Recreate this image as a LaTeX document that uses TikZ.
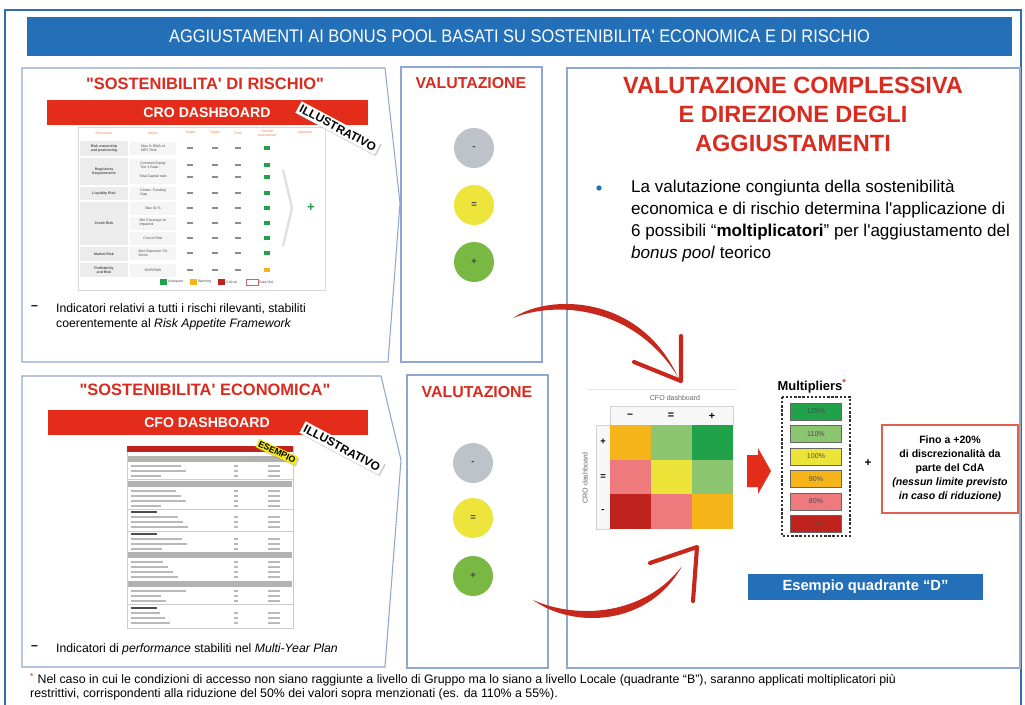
\documentclass[tikz,border=0pt]{standalone}
\usepackage{fontspec}
\setmainfont{Liberation Sans}[Ligatures=TeXOff]
\newfontfamily\narrowfont[FakeStretch=0.9,Ligatures=TeXOff]{Liberation Sans}
\usetikzlibrary{shadows}
\definecolor{frameblue}{HTML}{2E6DB4}
\definecolor{bandblue}{HTML}{2370B8}
\definecolor{panelblue}{HTML}{8EA7D3}
\definecolor{titlered}{HTML}{D92B1F}
\definecolor{dashred}{HTML}{E32C1A}
\definecolor{arrred}{HTML}{C8281C}
\definecolor{finored}{HTML}{E0604F}
\definecolor{hdrorange}{HTML}{E58A4E}
\definecolor{cgray}{HTML}{BEC2C9}
\definecolor{cyellow}{HTML}{EDE53C}
\definecolor{cgreen}{HTML}{78B843}
\definecolor{mgreen}{HTML}{1FA24A}
\definecolor{lgreen}{HTML}{8CC56F}
\definecolor{myellow}{HTML}{EDE43A}
\definecolor{morange}{HTML}{F4B41A}
\definecolor{mpink}{HTML}{EE7A7D}
\definecolor{mred}{HTML}{C0231D}
\definecolor{tagyellow}{HTML}{F2EA1D}

\begin{document}
\begin{tikzpicture}[x=0.85pt,y=-0.85pt,
    panel/.style={draw=panelblue,line width=0.9pt},
    redtitle/.style={text=titlered,font=\bfseries\fontsize{14}{16}\selectfont},
    dashtitle/.style={text=white,font=\bfseries\fontsize{12}{14}\selectfont},
    tagbox/.style={fill=white,rotate=-28,inner sep=2pt,font=\bfseries\fontsize{10}{10}\selectfont,drop shadow={opacity=0.4,shadow xshift=1pt,shadow yshift=-1.2pt}},
    bodytext/.style={anchor=north west,inner sep=0pt,align=left,font=\fontsize{10.4}{12.75}\selectfont},
    tinytext/.style={inner sep=0pt,align=center,font=\fontsize{3}{3.4}\selectfont,text=black!70},
    hdrtext/.style={tinytext,text=hdrorange},
    valdot/.style={circle,minimum size=34pt,inner sep=0pt,font=\bfseries\fontsize{8}{8}\selectfont,text=black!75},
    cell/.style={minimum width=34.85pt,minimum height=29.5pt,inner sep=0pt},
    mbox/.style={draw=black!60,line width=0.8pt,minimum width=44pt,minimum height=14.5pt,inner sep=0pt,font=\fontsize{6}{6}\selectfont,text=black!70},
    brush/.style={arrred,line width=3.5pt,line cap=round,line join=round}]
\useasboundingbox (0,0) rectangle (1025,704);
\fill[white] (0,0) rectangle (1025,704);
\draw[frameblue,line width=1.3pt] (5,712) -- (5,10) -- (1021,10) -- (1021,712);

\fill[bandblue] (27,17) rectangle (1012,56);
\node[text=white,font=\narrowfont\fontsize{15.5}{15.5}\selectfont] (banner) at (519.5,36.5) {AGGIUSTAMENTI AI BONUS POOL BASATI SU SOSTENIBILITA' ECONOMICA E DI RISCHIO};

\draw[panel] (22,68) -- (385,68) -- (400,203) -- (388,362) -- (22,362) -- cycle;
\draw[panel] (22,376) -- (381,376) -- (401,460) -- (385,667) -- (22,667) -- cycle;
\draw[panel] (401,67) rectangle (542,362);
\draw[panel] (407,375) rectangle (548,668);
\draw[panel] (567,68) rectangle (1020,668);

% rischio
\node[redtitle] (riskt) at (205,84) {"SOSTENIBILITA' DI RISCHIO"};
\fill[dashred] (47,100) rectangle (368,125);
\node[dashtitle] (crodash) at (207,112.5) {CRO DASHBOARD};
\draw[gray!30] (78,127) rectangle (325,290);
\foreach \x/\t [count=\i] in {104/Dimension,153/Metric,190/Target,215/Trigger,238/Limit,267/{Overall\\assessment},305/Appraisal}
  \node[hdrtext] (hd\i) at (\x,133) {\t};
\foreach \ya/\yb/\t [count=\i] in {140/157/{Risk ownership\\and positioning},157/186/{Regulatory\\Requirements},186/201/{Liquidity Risk},201/246/{Credit Risk},246/262/{Market Risk},262/278/{Profitability\\and Risk}}{
  \fill[gray!15] (80,\ya+1) rectangle (128,\yb-1);
  \node[tinytext,font=\bfseries\fontsize{3}{3.4}\selectfont] (dim\i) at (104,{(\ya+\yb)/2}) {\t};
}
\foreach \y/\c/\m [count=\i] in {148/mgreen/{Max \% RWA of\\MRT Risk},165/mgreen/{Common Equity\\Tier 1 Ratio},177/mgreen/{Total Capital ratio},193/mgreen/{Comm. Funding\\Gap},208/mgreen/{Max IG \%},223/mgreen/{Min Coverage on\\Impaired},238/mgreen/{Cost of Risk},253/mgreen/{Max Exposure ITA\\Govts},270/morange/{NOP/RWA}}{
  \fill[gray!8] (130,\y-6.5) rectangle (176,\y+6.5);
  \node[tinytext,align=left] (met\i) at (153,\y) {\m};
  \foreach \x in {190,215,238}
    \fill[black!45] (\x-3,\y-0.8) rectangle (\x+3,\y+0.8);
  \node[fill=\c,minimum width=5pt,minimum height=4pt,inner sep=0pt] (ass\i) at (267,\y) {};
}
\foreach \x/\c/\t [count=\i] in {160/mgreen/Adequate,190/morange/Warning,218/mred/Critical}{
  \fill[\c] (\x,279) rectangle (\x+7,285);
  \node[tinytext,anchor=west] (lg\i) at (\x+8,282) {\t};
}
\draw[mred!70,fill=white] (246,279) rectangle (258,285);
\node[tinytext,anchor=west] (lg4) at (259,282) {Data N/A};
\draw[gray!25,line width=2pt] (283,170) -- (292,208) -- (283,246);
\node[text=mgreen,font=\bfseries\fontsize{11}{11}\selectfont] (riskplus) at (311,208) {+};
\node[tagbox] (illu1) at (338,128) {ILLUSTRATIVO};
\node[bodytext,anchor=west,font=\bfseries\fontsize{10.4}{12.75}\selectfont] (riskdash) at (31,308) {–};
\node[bodytext] (risktxt) at (56,303) {Indicatori relativi a tutti i rischi rilevanti, stabiliti\\coerentemente al \emph{Risk Appetite Framework}};

% economica
\node[redtitle] (econt) at (205,390) {"SOSTENIBILITA' ECONOMICA"};
\fill[dashred] (48,410) rectangle (368,435);
\node[dashtitle] (cfodash) at (207,422.5) {CFO DASHBOARD};
\draw[gray!40] (127,446) rectangle (293,628);
\fill[mred] (127,446) rectangle (293,452);
\foreach \y in {456,481,552,581}
  \fill[gray!60] (128,\y) rectangle (292,\y+6);
\foreach \y in {479,509,531,604}
  \draw[gray!40] (127,\y) -- (293,\y);
\foreach \y in {466,471,476,491,496,501,506,517,522,527,539,544,549,562,567,572,577,591,596,601,613,618,623}{
  \draw[gray!55,line width=1.1pt] (131,\y) -- +({28+mod(\y*7,30)},0);
  \draw[gray!55,line width=1.1pt] (234,\y) -- +(4,0);
  \draw[gray!55,line width=1.1pt] (268,\y) -- +(12,0);
}
\foreach \y in {512,534,608}
  \draw[black!70,line width=1.3pt] (131,\y) -- +(26,0);
\node[tagbox,fill=tagyellow,rotate=3,font=\bfseries\fontsize{7.5}{7.5}\selectfont,inner sep=1.2pt] (esempiotag) at (277,452) {ESEMPIO};
\node[tagbox] (illu2) at (342,448) {ILLUSTRATIVO};
\node[bodytext,anchor=west,font=\bfseries\fontsize{10.4}{12.75}\selectfont] (econdash) at (31,648) {–};
\node[bodytext] (econtxt) at (56,643) {Indicatori di \emph{performance} stabiliti nel \emph{Multi-Year Plan}};

% valutazione
\node[redtitle,font=\bfseries\fontsize{13.5}{15}\selectfont] (val1) at (471,83) {VALUTAZIONE};
\foreach \y/\c/\t [count=\i] in {148/cgray/{-},205/cyellow/{=},262/cgreen/{+}}
  \node[valdot,fill=\c] (va\i) at (474,\y) {\t};
\node[redtitle,font=\bfseries\fontsize{13.5}{15}\selectfont] (val2) at (477,392) {VALUTAZIONE};
\foreach \y/\c/\t [count=\i] in {463/cgray/{-},518/cyellow/{=},576/cgreen/{+}}
  \node[valdot,fill=\c] (vb\i) at (473,\y) {\t};

% complessiva
\node[redtitle,align=center,font=\bfseries\fontsize{20}{24.6}\selectfont] (valt) at (793,114) {VALUTAZIONE COMPLESSIVA\\E DIREZIONE DEGLI\\AGGIUSTAMENTI};
\node[circle,fill=bandblue,inner sep=1.6pt] (bul) at (599,188) {};
\node[bodytext,font=\fontsize{14.5}{18.7}\selectfont] (valtxt) at (631,180) {La valutazione congiunta della sostenibilità\\economica e di rischio determina l'applicazione di\\6 possibili “\textbf{moltiplicatori}” per l'aggiustamento del\\\emph{bonus pool} teorico};

\draw[gray!20] (588,389) -- (737,389);
\node[tinytext,font=\fontsize{6}{6}\selectfont,text=black!60] (cfolab) at (675,398) {CFO dashboard};
\node[tinytext,font=\fontsize{6}{6}\selectfont,text=black!60,rotate=90] (crolab) at (585,478) {CRO dashboard};
\draw[gray!35,fill=gray!6] (610,406) rectangle (733,425);
\draw[gray!35,fill=gray!6] (596,425) rectangle (610,529);
\foreach \x/\t [count=\i] in {630/{–},671/{=},712/{+}}
  \node[font=\bfseries\fontsize{9}{9}\selectfont] (col\i) at (\x,416) {\t};
\foreach \y/\t [count=\i] in {442/{+},477/{=},511/{-}}
  \node[font=\bfseries\fontsize{8}{8}\selectfont] (row\i) at (603,\y) {\t};
\foreach \x/\y/\c [count=\i] in {610/425/morange,651/425/lgreen,692/425/mgreen,610/459.7/mpink,651/459.7/myellow,692/459.7/lgreen,610/494.3/mred,651/494.3/mpink,692/494.3/morange}
  \node[cell,fill=\c] (cell\i) at (\x+20.5,\y+17.35) {};
\fill[dashred] (747,455) -- (758,455) -- (758,448) -- (771,471) -- (758,494) -- (758,487) -- (747,487) -- cycle;

\node[font=\bfseries\fontsize{11}{11}\selectfont] (multt) at (812,386) {Multipliers\textcolor{dashred}{\textsuperscript{*}}};
\draw[black!80,line width=1.6pt,dash pattern=on 2pt off 1.5pt] (782,397) rectangle (850,536);
\foreach \y/\c/\t [count=\i] in {403/mgreen/125\%,425.5/lgreen/110\%,448/myellow/100\%,470.5/morange/90\%,493/mpink/80\%,515.5/mred/50\%}
  \node[mbox,fill=\c] (mult\i) at (816,\y+8.5) {\t};
\node[font=\bfseries\fontsize{10}{10}\selectfont] (plus2) at (868,463) {+};
\node[draw=finored,line width=1pt,minimum width=115.6pt,minimum height=74.8pt,align=center,font=\bfseries\fontsize{9}{12}\selectfont] (fino) at (950,469) {Fino a +20\%\\di discrezionalità da\\parte del CdA\\\emph{(nessun limite previsto}\\\emph{in caso di riduzione)}};
\node[fill=bandblue,text=white,minimum width=199.75pt,minimum height=22pt,font=\bfseries\fontsize{12.5}{12.5}\selectfont] (esempio) at (865.5,587) {Esempio quadrante “D”};

\coordinate (a1s) at (513,318);
\coordinate (a1e) at (678,377);
\coordinate (a1t) at (681,381);
\coordinate (a1l) at (681,336);
\coordinate (a1r) at (634,362);
\fill[arrred] (a1s) .. controls (550,293) and (640,295) .. (a1e) .. controls (635,307) and (558,300) .. (a1s);
\draw[brush] (a1l) -- (a1t) -- (a1r);
\coordinate (a2s) at (533,600);
\coordinate (a2e) at (682,566);
\coordinate (a2t) at (697,547);
\coordinate (a2l) at (650,563);
\coordinate (a2r) at (693,601);
\fill[arrred] (a2s) .. controls (575,630) and (650,625) .. (a2e) .. controls (645,615) and (578,620) .. (a2s);
\draw[brush] (a2l) -- (a2t) -- (a2r);

\node[anchor=north west,inner sep=0pt,align=left,font=\fontsize{10.5}{12}\selectfont] (note) at (30,673) {\textcolor{dashred}{\textsuperscript{*}} Nel caso in cui le condizioni di accesso non siano raggiunte a livello di Gruppo ma lo siano a livello Locale (quadrante “B”), saranno applicati moltiplicatori più\\restrittivi, corrispondenti alla riduzione del 50\% dei valori sopra menzionati (es. da 110\% a 55\%).};
\end{tikzpicture}
\end{document}
